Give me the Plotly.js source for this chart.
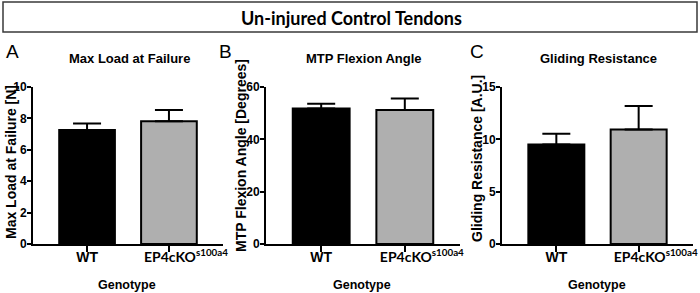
<!DOCTYPE html>
<html>
<head>
<meta charset="utf-8">
<script src="https://cdn.plot.ly/plotly-3.0.1.min.js"></script>
<style>html,body{margin:0;padding:0;background:#fff}#chart{width:700px;height:293px}</style>
</head>
<body>
<div id="chart"></div>
<script>
// ---- data ----
const categories = ['WT', 'EP4cKO'];
const tickLabels = ['WT', 'EP4cKO<sup>s100a4</sup>'];
const loadMean  = [7.26, 7.82];
const loadErr   = [0.41, 0.71];
const angleMean = [51.8, 51.2];
const angleErr  = [1.8, 4.4];
const glideMean = [9.51, 10.95];
const glideErr  = [1.03, 2.23];
const panelTitles = ['Max Load at Failure', 'MTP Flexion Angle', 'Gliding Resistance'];
const yTitles = ['Max Load at Failure [N]', 'MTP Flexion Angle [Degrees]', 'Gliding Resistance [A.U.]'];
const panelLetters = ['A', 'B', 'C'];
const yRanges = [[0, 10], [0, 60], [0, 15]];
const yDticks = [2, 20, 5];
const mainTitle = 'Un-injured Control Tendons';
const xTitle = 'Genotype';

// ---- layout helpers ----
const W = 700, H = 293;
const px = v => v / W;
const py = v => 1 - v / H;
const ARIAL = '"Liberation Sans", Arial, sans-serif';
const CAL = 'Lato, "Open Sans", sans-serif';
const barColors = ['#000000', '#afafaf'];

const xDomains = [[33, 223], [266, 460], [502, 693]];
const yDomain = [py(244), py(87)];
const means = [loadMean, angleMean, glideMean];
const errs = [loadErr, angleErr, glideErr];

const pad = '\u00a0'.repeat(10);
const ticktext = tickLabels.map((t, i) => i === 0 ? t :
  '<span style="font-family:Lato">' + pad + t + '</span>');

const data = [];
const layout = {
  width: W, height: H,
  margin: {l: 0, r: 0, t: 0, b: 0},
  paper_bgcolor: '#ffffff',
  plot_bgcolor: 'rgba(0,0,0,0)',
  showlegend: false,
  shapes: [{
    type: 'rect', xref: 'paper', yref: 'paper',
    x0: px(3), x1: px(697), y0: py(32), y1: py(2),
    line: {color: '#3a3a3a', width: 1.5}, fillcolor: 'rgba(0,0,0,0)'
  }],
  annotations: [{
    text: mainTitle, xref: 'paper', yref: 'paper', x: px(351), y: py(18.5),
    xanchor: 'center', yanchor: 'middle', showarrow: false,
    font: {family: CAL, size: 18, color: '#000', weight: 'bold'}
  }]
};

const letterX = [12, 225, 477];
const yTitleX = [11, 241, 477];
const yTitleY = [162, 156, 158];

for (let i = 0; i < 3; i++) {
  const n = i === 0 ? '' : String(i + 1);
  data.push({
    type: 'bar', x: categories, y: means[i],
    xaxis: 'x' + n, yaxis: 'y' + n,
    width: 0.68,
    marker: {color: barColors, line: {color: '#000', width: 2}},
    error_y: {type: 'data', symmetric: false, array: errs[i], arrayminus: [0, 0],
              color: '#000', thickness: 2, width: 14},
    hoverinfo: 'none'
  });
  layout['xaxis' + n] = {
    domain: [px(xDomains[i][0]), px(xDomains[i][1])],
    anchor: 'y' + n, type: 'category', range: [-0.66, 1.66],
    tickmode: 'array', tickvals: categories, ticktext: ticktext,
    showline: true, linecolor: '#000', linewidth: 2,
    ticks: 'outside', ticklen: 6, tickwidth: 2, tickcolor: '#000',
    ticklabelstandoff: -7, ticklabeloverflow: 'allow',
    showgrid: false, zeroline: false, fixedrange: true,
    tickfont: {family: ARIAL, size: 14, color: '#000', weight: 'bold'}
  };
  layout['yaxis' + n] = {
    domain: yDomain, anchor: 'x' + n, range: yRanges[i], dtick: yDticks[i], tick0: 0,
    showline: true, linecolor: '#000', linewidth: 2,
    ticks: 'outside', ticklen: 4, tickwidth: 2, tickcolor: '#000',
    ticklabelstandoff: -2, ticklabeloverflow: 'allow',
    showgrid: false, zeroline: false, fixedrange: true,
    tickfont: {family: ARIAL, size: 12, color: '#000', weight: 'bold'}
  };
  layout.annotations.push({
    text: panelLetters[i], xref: 'paper', yref: 'paper', x: px(letterX[i]), y: py(51.5),
    xanchor: 'center', yanchor: 'middle', showarrow: false,
    font: {family: ARIAL, size: 19, color: '#000'}
  });
  layout.annotations.push({
    text: panelTitles[i], xref: 'paper', yref: 'paper',
    x: px((xDomains[i][0] + xDomains[i][1]) / 2 + 1), y: py(58),
    xanchor: 'center', yanchor: 'middle', showarrow: false,
    font: {family: ARIAL, size: 13, color: '#000', weight: 'bold'}
  });
  layout.annotations.push({
    text: yTitles[i], xref: 'paper', yref: 'paper', x: px(yTitleX[i]), y: py(yTitleY[i]),
    xanchor: 'center', yanchor: 'middle', showarrow: false, textangle: -90,
    font: {family: ARIAL, size: 14, color: '#000', weight: 'bold'}
  });
  layout.annotations.push({
    text: xTitle, xref: 'paper', yref: 'paper',
    x: px((xDomains[i][0] + xDomains[i][1]) / 2 - 1), y: py(284.5),
    xanchor: 'center', yanchor: 'middle', showarrow: false,
    font: {family: ARIAL, size: 12.5, color: '#000', weight: 'bold'}
  });
}

Plotly.newPlot('chart', data, layout, {displayModeBar: false, staticPlot: true});
</script>
</body>
</html>
